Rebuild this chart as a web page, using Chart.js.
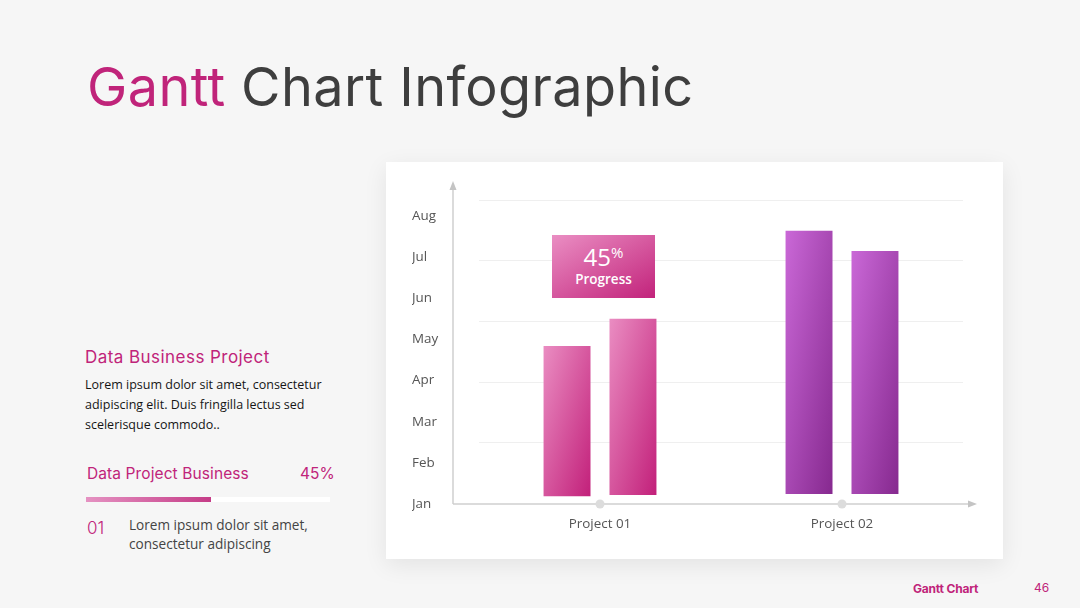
<!DOCTYPE html>
<html>
<head>
<meta charset="utf-8">
<script src="https://cdn.jsdelivr.net/npm/chart.js@4"></script>
<style>
  html, body { margin: 0; padding: 0; }
  body { width: 1080px; height: 608px; background: #f6f6f6; position: relative; overflow: hidden; font-family: "Open Sans", sans-serif; }
  .abs { position: absolute; white-space: nowrap; }
  .title { left: 87px; top: 60px; font-family: Inter, sans-serif; font-size: 54px; line-height: 54px; color: #3e3e3e; letter-spacing: 0.4px; }
  .pink { color: #c0247a; }
  .h2 { left: 85px; top: 349px; font-family: Inter, sans-serif; font-size: 17px; line-height: 17px; color: #c0247a; letter-spacing: 0.45px; }
  .para { left: 85px; top: 375px; font-size: 12.5px; line-height: 20px; color: #151515; }
  .h3 { left: 87px; top: 466px; font-family: Inter, sans-serif; font-size: 15.5px; line-height: 15.5px; color: #c0247a; letter-spacing: 0.1px; }
  .pct { left: 300px; top: 466px; font-family: Inter, sans-serif; font-size: 15.5px; line-height: 15.5px; color: #c0247a; }
  .track { left: 86px; top: 497px; width: 244px; height: 5px; background: #fff; }
  .fill { left: 0; top: 0; width: 125px; height: 5px; background: linear-gradient(90deg, #e592c2, #c53c87); }
  .num { left: 87px; top: 520px; font-family: Inter, sans-serif; font-size: 17px; font-weight: 300; line-height: 17px; color: #c0247a; }
  .item { left: 129px; top: 515px; font-size: 13.6px; line-height: 19px; color: #444; }
  .card { left: 386px; top: 162px; width: 617px; height: 397px; background: #fff; box-shadow: 0 6px 22px rgba(0,0,0,0.08); }
  .badge { left: 552px; top: 235px; width: 103px; height: 63px; background: linear-gradient(150deg, #ea8ec3, #c2237b); color: #fff; text-align: center; }
  .badge .big { display: block; margin-top: 9px; font-size: 24px; line-height: 25px; }
  .badge .big sup { font-size: 15px; vertical-align: 8px; line-height: 0; }
  .badge .small { display: block; margin-top: 1px; font-size: 13.5px; font-weight: 600; line-height: 18px; }
  .foot { left: 913px; top: 581px; font-family: Inter, sans-serif; font-size: 12px; font-weight: 700; color: #c0247a; letter-spacing: -0.2px; }
  .page { left: 1034px; top: 580px; font-family: Inter, sans-serif; font-size: 12px; color: #c0247a; }
</style>
</head>
<body>
  <div class="abs title"><span class="pink">Gantt</span> Chart Infographic</div>

  <div class="abs h2">Data Business Project</div>
  <div class="abs para">Lorem ipsum dolor sit amet, consectetur<br>adipiscing elit. Duis fringilla lectus sed<br>scelerisque commodo..</div>
  <div class="abs h3">Data Project Business</div>
  <div class="abs pct">45%</div>
  <div class="abs track"><div class="abs fill"></div></div>
  <div class="abs num">01</div>
  <div class="abs item">Lorem ipsum dolor sit amet,<br>consectetur adipiscing</div>

  <div class="abs card"><canvas id="gantt" width="617" height="397"></canvas></div>
  <div class="abs badge"><span class="big">45<sup>%</sup></span><span class="small">Progress</span></div>

  <div class="abs foot">Gantt Chart</div>
  <div class="abs page">46</div>

<script>
// data, in months from Jan (0)
const projects = ['Project 01', 'Project 02'];
const months = ['Jan', 'Feb', 'Mar', 'Apr', 'May', 'Jun', 'Jul', 'Aug'];
const phaseA = [[0.19, 3.84], [0.24, 6.64]];
const phaseB = [[0.22, 4.50], [0.24, 6.15]];
const gridValues = [1.50, 2.96, 4.44, 5.92, 7.38];
const yMax = 7.8;

// colour per project: light top-left, dark bottom-right
const palettes = [['#ea8dc2', '#c2207a'], ['#ca68d7', '#86298f']];
const CAT_PCT = 0.545;
const BAR_PCT = 0.712;

const barFill = (c) => {
    const chart = c.chart;
    const pal = palettes[c.dataIndex] || palettes[0];
    if (!chart.chartArea || !Array.isArray(c.raw)) return pal[1];
    const x = chart.scales.x, y = chart.scales.y;
    const slot = (x.getPixelForValue(1) - x.getPixelForValue(0)) * CAT_PCT / 2;
    const cx = x.getPixelForValue(c.dataIndex) + (c.datasetIndex - 0.5) * slot;
    const w = slot * BAR_PCT;
    const left = cx - w / 2;
    const top = y.getPixelForValue(c.raw[1]);
    const h = y.getPixelForValue(c.raw[0]) - top;
    const d = 2 * w * h / (w * w + h * h);
    const g = chart.ctx.createLinearGradient(left, top, left + h * d, top + w * d);
    g.addColorStop(0, pal[0]);
    g.addColorStop(1, pal[1]);
    return g;
};

// axis lines with arrows and the little dots under each project
const axesPlugin = {
    id: 'axes',
    beforeDatasetsDraw(chart) {
        const { ctx, chartArea: a, scales: { x } } = chart;
        const ox = a.left - 26, oy = a.bottom;
        ctx.save();
        ctx.strokeStyle = '#cfcfcf';
        ctx.fillStyle = '#c4c4c4';
        ctx.lineWidth = 1.5;
        ctx.beginPath();
        ctx.moveTo(ox, oy);
        ctx.lineTo(ox, a.top + 4);
        ctx.moveTo(ox, oy);
        ctx.lineTo(a.right + 8, oy);
        ctx.stroke();
        ctx.beginPath();
        ctx.moveTo(ox, a.top - 2);
        ctx.lineTo(ox - 3.5, a.top + 7);
        ctx.lineTo(ox + 3.5, a.top + 7);
        ctx.closePath();
        ctx.fill();
        ctx.beginPath();
        ctx.moveTo(a.right + 14, oy);
        ctx.lineTo(a.right + 5, oy - 3.5);
        ctx.lineTo(a.right + 5, oy + 3.5);
        ctx.closePath();
        ctx.fill();
        ctx.fillStyle = '#dcdcdc';
        projects.forEach((p, i) => {
            ctx.beginPath();
            ctx.arc(x.getPixelForValue(i), oy, 4.5, 0, Math.PI * 2);
            ctx.fill();
        });
        ctx.restore();
    }
};

const tickFont = { family: 'Open Sans', size: 13.4 };
const barStyle = {
    backgroundColor: barFill,
    borderWidth: 0,
    borderSkipped: false,
    categoryPercentage: CAT_PCT,
    barPercentage: BAR_PCT
};

new Chart(document.getElementById('gantt'), {
    type: 'bar',
    data: {
        labels: projects,
        datasets: [
            { label: 'Phase A', data: phaseA, ...barStyle },
            { label: 'Phase B', data: phaseB, ...barStyle }
        ]
    },
    options: {
        responsive: false,
        animation: false,
        layout: { padding: { left: 26, right: 40, top: 21, bottom: 0 } },
        scales: {
            x: {
                grid: { display: false, drawTicks: false },
                border: { display: false },
                ticks: { font: tickFont, color: '#555', padding: 12 },
                afterFit: (s) => { s.height = 55; }
            },
            y: {
                min: 0,
                max: yMax,
                grid: { display: false, drawTicks: false },
                border: { display: false },
                afterBuildTicks: (s) => { s.ticks = months.map((m, i) => ({ value: i })); },
                ticks: {
                    font: tickFont,
                    color: '#555',
                    crossAlign: 'far',
                    callback: (v) => months[v] || ''
                },
                afterFit: (s) => { s.width = 67; }
            },
            yGrid: {
                position: 'left',
                min: 0,
                max: yMax,
                grid: { color: '#efefef', lineWidth: 1, drawTicks: false },
                border: { display: false },
                afterBuildTicks: (s) => { s.ticks = gridValues.map(v => ({ value: v })); },
                ticks: { display: false }
            }
        },
        plugins: {
            legend: { display: false },
            tooltip: { enabled: false },
            colors: { enabled: false }
        }
    },
    plugins: [axesPlugin]
});
</script>
</body>
</html>
